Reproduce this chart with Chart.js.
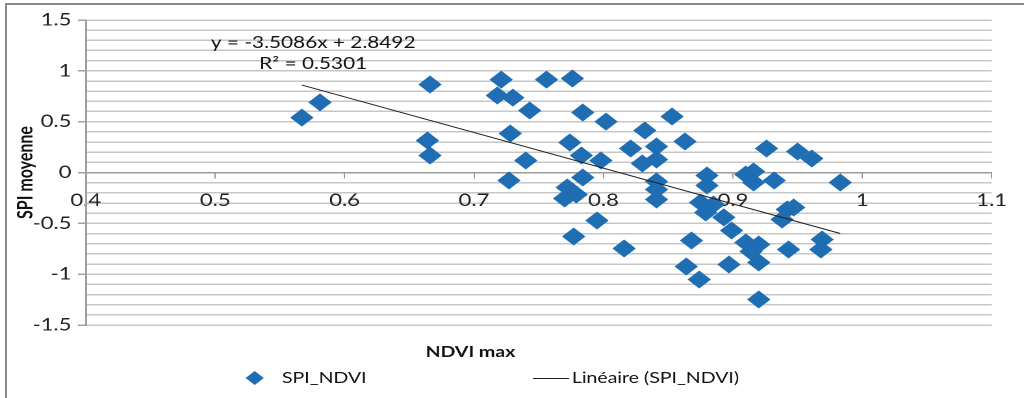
<!DOCTYPE html>
<html>
<head>
<meta charset="utf-8">
<script src="https://cdn.jsdelivr.net/npm/chart.js@4"></script>
<style>
html, body { margin: 0; padding: 0; background: #fff; overflow: hidden; }
#frame { position: absolute; left: 5px; top: 3px; width: 1030px; height: 400px; border-left: 2px solid #8a8a8a; border-top: 2px solid #8a8a8a; }
/* the original picture is stretched horizontally, so the chart is drawn narrower and widened */
#wrap { position: absolute; left: 0; top: 0; width: 788px; height: 398px; transform: scaleX(1.2995); transform-origin: 0 0; }
</style>
</head>
<body>
<div id="frame"></div>
<div id="wrap"><canvas id="myChart"></canvas></div>
<script>
// NDVI max (x) et SPI moyenne (y)
const ndviMax = [
    0.567, 0.581, 0.666, 0.664, 0.666,
    0.721, 0.718, 0.730, 0.743, 0.756, 0.776, 0.784, 0.802, 0.728, 0.727,
    0.740, 0.774, 0.783, 0.798, 0.784, 0.772, 0.770, 0.779, 0.777, 0.795, 0.816,
    0.832, 0.853, 0.863, 0.821, 0.841, 0.830, 0.841, 0.841, 0.841, 0.841,
    0.868, 0.864, 0.874, 0.880, 0.880, 0.875, 0.879, 0.885, 0.893, 0.899,
    0.910, 0.916, 0.916, 0.932, 0.926, 0.950, 0.961, 0.983, 0.910, 0.920,
    0.914, 0.920, 0.897, 0.920, 0.942, 0.947, 0.938, 0.943, 0.969, 0.968
];
const spiMoyenne = [
    0.54, 0.69, 0.865, 0.315, 0.167,
    0.914, 0.757, 0.737, 0.61, 0.914, 0.924, 0.59, 0.50, 0.383, -0.079,
    0.118, 0.295, 0.167, 0.118, -0.049, -0.147, -0.256, -0.216, -0.629, -0.472, -0.747,
    0.413, 0.551, 0.305, 0.236, 0.256, 0.088, 0.128, -0.088, -0.167, -0.265,
    -0.669, -0.924, -1.052, -0.029, -0.128, -0.295, -0.393, -0.315, -0.442, -0.57,
    -0.02, 0.01, -0.098, -0.079, 0.236, 0.206, 0.138, -0.098, -0.688, -0.708,
    -0.777, -0.885, -0.905, -1.249, -0.364, -0.344, -0.462, -0.757, -0.659, -0.757
];

// courbe de tendance (extrémités)
const trendX = [0.567, 0.983];
const trendY = [0.860, -0.600];

const equationText = 'y = -3.5086x + 2.8492';
const r2Text = 'R² = 0.5301';
const xTitle = 'NDVI max';
const yTitle = 'SPI moyenne';
const seriesName = 'SPI_NDVI';
const trendName = 'Linéaire (SPI_NDVI)';

const blue = '#1f6db3';
const FONT = 'Lato, "Liberation Sans", sans-serif';

function fmt(v) {
    return String(Number(v.toFixed(1)));
}

// textes : équation, titre de l'axe X, légende
const extraText = {
    id: 'extraText',
    afterDraw(chart) {
        const ctx = chart.ctx;
        ctx.save();
        ctx.fillStyle = '#111';
        ctx.textAlign = 'center';
        ctx.textBaseline = 'middle';
        ctx.font = '16px ' + FONT;
        ctx.fillText(equationText, 241, 43);
        ctx.fillText(r2Text, 241, 64);

        ctx.font = 'bold 15px ' + FONT;
        ctx.fillText(xTitle, 362, 352);

        // légende
        ctx.font = '15px ' + FONT;
        ctx.textAlign = 'left';
        ctx.fillStyle = blue;
        Chart.helpers.drawPoint(ctx, { pointStyle: 'rectRot', radius: 7, borderWidth: 0 }, 196, 378);
        ctx.fillStyle = '#111';
        ctx.fillText(seriesName, 217, 378);
        ctx.strokeStyle = '#222';
        ctx.lineWidth = 1;
        ctx.beginPath();
        ctx.moveTo(410, 378.5);
        ctx.lineTo(438, 378.5);
        ctx.stroke();
        ctx.fillText(trendName, 440, 378);
        ctx.restore();
    }
};

new Chart(document.getElementById('myChart'), {
    type: 'scatter',
    data: {
        datasets: [
            {
                label: seriesName,
                data: ndviMax.map((x, i) => ({ x, y: spiMoyenne[i] })),
                pointStyle: 'rectRot',
                pointRadius: 9,
                pointHoverRadius: 9,
                backgroundColor: blue,
                borderColor: blue,
                borderWidth: 0,
                order: 2
            },
            {
                type: 'line',
                label: trendName,
                data: trendX.map((x, i) => ({ x, y: trendY[i] })),
                borderColor: '#222',
                borderWidth: 1,
                pointRadius: 0,
                fill: false,
                order: 1
            }
        ]
    },
    options: {
        responsive: true,
        maintainAspectRatio: false,
        devicePixelRatio: 2,
        animation: false,
        layout: { padding: { left: 0, right: 24, top: 20, bottom: 73 } },
        plugins: {
            legend: { display: false },
            tooltip: { enabled: false }
        },
        scales: {
            x: {
                type: 'linear',
                min: 0.4,
                max: 1.1,
                position: { y: 0 },
                ticks: {
                    stepSize: 0.1,
                    padding: 13,
                    color: '#222',
                    font: { family: FONT, size: 17 },
                    callback: v => fmt(v)
                },
                grid: { drawOnChartArea: false, tickLength: 5, color: '#9a9a9a' },
                border: { color: '#9a9a9a', width: 1.5 }
            },
            y: {
                type: 'linear',
                min: -1.5,
                max: 1.5,
                afterFit: scale => { scale.width = 66; },
                title: {
                    display: true,
                    text: yTitle,
                    color: '#111',
                    font: { family: FONT, size: 16, weight: 'bold' },
                    padding: { top: 10, bottom: 0 }
                },
                ticks: {
                    stepSize: 0.1,
                    autoSkip: false,
                    padding: 5,
                    color: '#222',
                    font: { family: FONT, size: 17 },
                    callback: v => (Math.abs(v * 2 - Math.round(v * 2)) < 1e-6 ? fmt(v) : '')
                },
                grid: {
                    color: '#c6c6c6',
                    lineWidth: 1.5,
                    tickLength: 6,
                    tickColor: ctx => (Math.abs(ctx.tick.value * 2 - Math.round(ctx.tick.value * 2)) < 1e-6 ? '#a0a0a0' : 'rgba(0,0,0,0)')
                },
                border: { color: '#a0a0a0', width: 1.5 }
            }
        }
    },
    plugins: [extraText]
});
</script>
</body>
</html>
